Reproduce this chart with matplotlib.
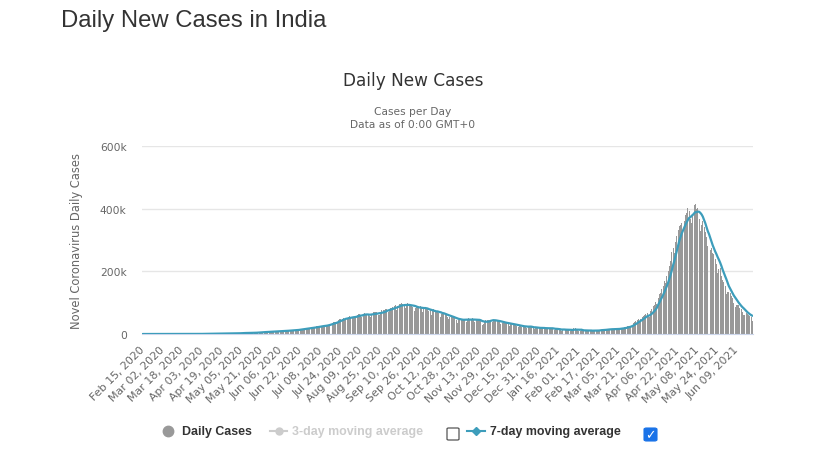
import matplotlib
matplotlib.use("Agg")
import matplotlib.pyplot as plt
from matplotlib.lines import Line2D
from matplotlib.patches import FancyBboxPatch
from matplotlib.ticker import FuncFormatter, FixedLocator
import numpy as np
import pandas as pd

# daily new cases in India, thousands (Feb 15 2020 .. Jun 21 2021)
start_date = "2020-02-15"
tick_every = 16

feb20 = [0.0] * 15
mar20 = [0, 0, 0, 0, 0, 0, 0, 0, 0, 0, 0, 0, 0, 0, 0, 0, 0, 0, 0, 0.1, 0.1,
         0.1, 0.1, 0.1, 0.1, 0.1, 0.1, 0.2, 0.1, 0.2, 0.2]
apr20 = [0.6, 0.4, 0.5, 0.6, 0.5, 0.7, 0.5, 0.6, 0.8, 0.9, 0.9, 0.9, 0.8, 1.2, 1.1,
         1.0, 1.0, 1.3, 1.5, 1.4, 1.5, 1.3, 1.4, 1.7, 1.8, 1.6, 1.6, 1.8, 1.9, 1.8]
may20 = [2.4, 2.3, 2.6, 3.9, 3.6, 3.0, 3.5, 3.3, 3.3, 4.2, 3.6, 3.6, 3.8, 3.9, 3.9, 4.9,
         4.9, 5.0, 5.6, 5.6, 6.1, 6.6, 6.7, 6.8, 6.5, 6.4, 7.3, 7.5, 7.8, 8.1, 8.4]
jun20 = [8.2, 8.2, 9.6, 9.3, 9.9, 9.9, 9.9, 9.6, 9.9, 11.1, 11.3, 11.4, 11.9, 11.5, 10.7,
         12.9, 13.6, 12.9, 13.6, 15.4, 15.4, 14.8, 15.7, 16.9, 17.3, 18.6, 19.1, 19.9, 19.5, 18.6]
jul20 = [19.5, 21.9, 22.8, 24.9, 25.1, 23.9, 23.1, 25.6, 26.5, 27.1, 28.6, 28.6, 28.2, 29.1,
         32.7, 35.5, 35.0, 37.4, 38.9, 37.1, 37.7, 45.7, 49.3, 48.9, 48.7, 49.9, 47.7, 49.6,
         51.7, 55.1, 57.1]
aug20 = [54.7, 53.6, 52.1, 52.5, 56.3, 62.2, 62.5, 65.0, 62.1, 53.6, 60.9, 66.4, 64.6, 65.0,
         63.5, 57.9, 55.0, 65.0, 69.7, 68.9, 69.9, 69.2, 61.4, 60.9, 67.2, 75.8, 77.3, 76.5,
         78.8, 79.0, 69.9]
sep20 = [78.4, 83.9, 83.3, 86.4, 90.6, 91.7, 75.8, 89.7, 95.7, 96.6, 97.6, 94.4, 93.2, 81.9,
         90.1, 97.9, 96.4, 93.3, 92.6, 87.4, 75.1, 83.3, 86.1, 85.9, 86.1, 88.6, 82.8, 70.6,
         80.5, 86.8]
oct20 = [81.5, 79.5, 74.8, 75.6, 61.3, 72.0, 78.5, 70.5, 73.3, 74.4, 66.7, 55.3, 63.5, 63.5,
         67.7, 62.2, 62.1, 55.7, 46.8, 54.0, 56.0, 54.4, 53.4, 50.1, 45.1, 36.5, 43.9, 49.9,
         48.6, 47.6, 46.9]
nov20 = [46.2, 38.3, 46.3, 50.2, 47.6, 45.7, 50.4, 45.2, 38.1, 44.3, 47.9, 44.9, 44.9, 41.1,
         29.2, 30.5, 38.6, 45.6, 45.9, 46.2, 45.2, 44.1, 37.9, 44.4, 44.5, 43.1, 41.3, 41.8,
         38.8, 31.1]
dec20 = [36.6, 35.6, 35.5, 36.6, 36.7, 32.9, 26.6, 31.5, 32.1, 29.4, 30.0, 30.3, 27.1, 22.1,
         26.4, 24.0, 22.9, 25.2, 25.1, 24.3, 19.6, 23.9, 24.7, 23.1, 22.3, 19.0, 16.4, 20.0,
         21.8, 20.5, 20.0]
jan21 = [19.1, 19.0, 18.2, 16.5, 18.1, 20.3, 18.1, 18.2, 18.6, 17.7, 16.3, 12.6, 15.9, 16.9,
         15.6, 15.1, 13.8, 10.1, 13.8, 15.2, 14.5, 14.3, 14.2, 13.2, 9.1, 12.7, 11.7, 18.9,
         18.9, 13.1, 13.0]
feb21 = [8.6, 11.0, 12.9, 11.0, 12.4, 11.7, 11.8, 9.1, 9.1, 12.9, 11.0, 9.3, 12.1, 11.6, 9.1,
         11.6, 12.9, 13.2, 14.3, 13.9, 14.2, 10.6, 14.0, 16.7, 16.6, 16.5, 16.8, 15.5]
mar21 = [12.3, 14.9, 17.2, 17.3, 17.9, 18.7, 18.7, 15.4, 17.9, 22.8, 22.9, 24.9, 24.9, 26.3,
         24.5, 28.9, 35.9, 39.7, 40.9, 43.8, 47.0, 41.0, 47.3, 53.5, 59.1, 62.3, 62.7, 68.0,
         56.2, 53.5, 72.3]
apr21 = [81.5, 89.1, 93.2, 103.8, 96.6, 115.3, 126.8, 131.9, 145.4, 152.9, 168.9, 161.7,
         185.3, 200.7, 216.9, 234.7, 261.5, 273.8, 259.2, 295.0, 314.8, 332.5, 345.1, 349.3,
         354.5, 323.0, 360.9, 379.3, 386.5, 402.0]
may21 = [392.5, 368.1, 355.8, 382.7, 412.4, 414.2, 401.1, 403.7, 366.5, 329.9, 348.4, 362.7,
         343.1, 326.1, 311.2, 281.4, 263.5, 267.3, 276.1, 259.6, 257.3, 240.8, 222.3, 196.4,
         208.9, 211.3, 186.4, 173.8, 165.6, 152.7, 127.5]
jun21 = [132.8, 134.2, 132.4, 120.5, 114.5, 100.6, 86.5, 92.6, 94.1, 91.7, 84.3, 80.8, 70.4,
         60.5, 62.2, 67.2, 62.5, 60.8, 58.4, 53.3, 42.6]

daily = np.array(feb20 + mar20 + apr20 + may20 + jun20 + jul20 + aug20 + sep20 + oct20
                 + nov20 + dec20 + jan21 + feb21 + mar21 + apr21 + may21 + jun21)
dates = pd.date_range(start_date, periods=len(daily), freq="D")
avg7 = pd.Series(daily).rolling(7, min_periods=1).mean().values

BAR = "#999999"
TEAL = "#3d9dbb"
GREY_TXT = "#666666"
DARK = "#333333"

fig = plt.figure(figsize=(8.22, 4.56), dpi=100)
W, H = 822, 456

ax = fig.add_axes([142 / W, 1 - 335 / H, 611 / W, (335 - 147.3) / H])
x = np.arange(len(daily))
ax.bar(x, daily, width=0.8, color=BAR, linewidth=0, antialiased=False, zorder=2)
ax.plot(x, avg7, color=TEAL, lw=1.6, zorder=3, solid_capstyle="round")

ax.set_xlim(-0.5, len(daily) - 0.5)
ax.set_ylim(0, 600)
ax.yaxis.set_major_locator(FixedLocator([0, 200, 400, 600]))
ax.yaxis.set_major_formatter(FuncFormatter(lambda v, p: "0" if v == 0 else f"{int(v)}k"))
ax.grid(axis="y", color="#e6e6e6", lw=1, zorder=0)
for s in ["top", "right", "left"]:
    ax.spines[s].set_visible(False)
ax.spines["bottom"].set_color("#ccd6eb")
ax.tick_params(axis="y", length=0, pad=11, labelsize=7.7, labelcolor=GREY_TXT)

ticks = x[::tick_every]
ax.set_xticks(ticks)
ax.set_xticklabels([d.strftime("%b %d, %Y") for d in dates[::tick_every]],
                   rotation=45, ha="right", va="center", rotation_mode="anchor",
                   fontsize=7.9, color=GREY_TXT)
ax.tick_params(axis="x", length=0, pad=10)

ax.set_ylabel("Novel Coronavirus Daily Cases", fontsize=8.3, color=GREY_TXT)
ax.yaxis.set_label_coords((83 - 142) / 611, 0.5)

# titles
fig.text(61 / W, 1 - 26.7 / H, "Daily New Cases in India", fontsize=17.2,
         family="Liberation Sans", color=DARK, va="baseline")
fig.text(413 / W, 1 - 86 / H, "Daily New Cases", fontsize=12.2, color=DARK,
         ha="center", va="baseline")
fig.text(413 / W, 1 - 115 / H, "Cases per Day", fontsize=7.7, color=GREY_TXT,
         ha="center", va="baseline")
fig.text(413 / W, 1 - 128.3 / H, "Data as of 0:00 GMT+0", fontsize=7.7, color=GREY_TXT,
         ha="center", va="baseline")

# legend drawn by hand
ly = 1 - 432 / H
lf = dict(fontsize=8.9, family="Liberation Sans", weight="bold", va="center")
fig.add_artist(Line2D([167.7 / W], [ly], marker="o", ms=7.5, color=BAR, lw=0))
fig.text(181.7 / W, ly, "Daily Cases", color=DARK, **lf)
fig.add_artist(Line2D([270 / W, 287 / W], [ly, ly], color="#cccccc", lw=1.5))
fig.add_artist(Line2D([278.5 / W], [ly], marker="o", ms=5, color="#cccccc", lw=0))
fig.text(292 / W, ly, "3-day moving average", color="#cccccc", **lf)
fig.add_artist(FancyBboxPatch((447 / W, 1 - 441 / H), 12 / W, 12 / H,
                              boxstyle="round,pad=0,rounding_size=0.002",
                              transform=fig.transFigure, facecolor="white",
                              edgecolor="#555555", lw=0.9))
fig.add_artist(Line2D([467 / W, 485 / W], [ly, ly], color=TEAL, lw=1.5))
fig.add_artist(Line2D([476 / W], [ly], marker="D", ms=4, color=TEAL, lw=0))
fig.text(490 / W, ly, "7-day moving average", color=DARK, **lf)
fig.add_artist(FancyBboxPatch((644 / W, 1 - 442 / H), 13 / W, 13 / H,
                              boxstyle="round,pad=0,rounding_size=0.003",
                              transform=fig.transFigure, facecolor="#1a73e8",
                              edgecolor="#1a73e8", lw=0.8))
fig.text(650.5 / W, 1 - 435.5 / H, "\u2713", color="white", fontsize=9, weight="bold",
         ha="center", va="center")

fig.savefig("out.png", dpi=100, facecolor="white")
